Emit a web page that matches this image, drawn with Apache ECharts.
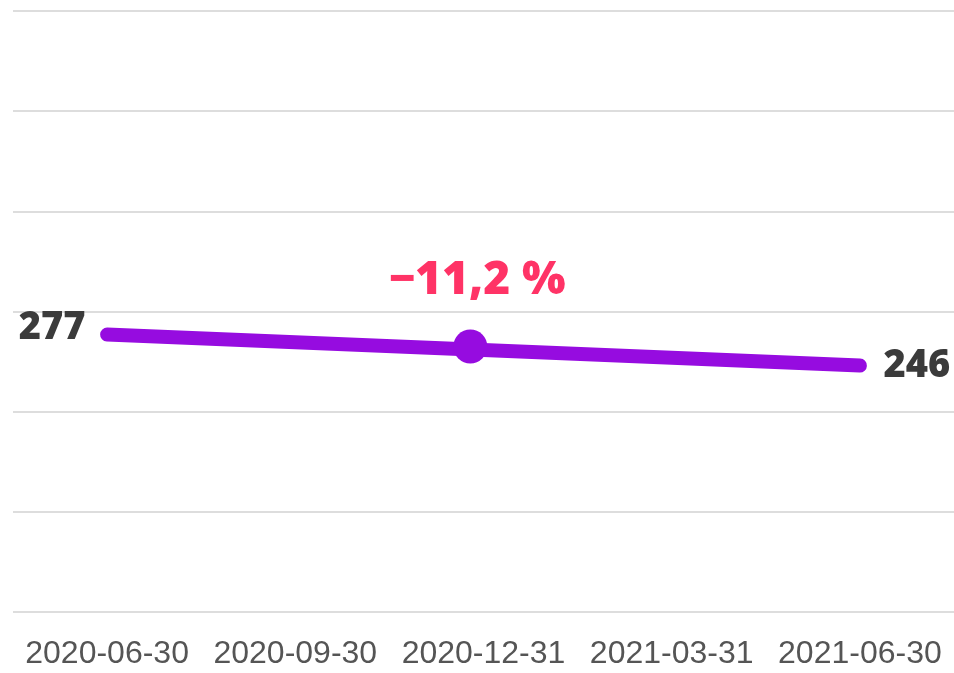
<!DOCTYPE html>
<html>
<head>
<meta charset="utf-8">
<script src="https://cdn.jsdelivr.net/npm/echarts@6/dist/echarts.min.js"></script>
<style>
  html, body { margin: 0; padding: 0; background: #fff; }
  #main { width: 954px; height: 673px; }
</style>
</head>
<body>
<div id="main"></div>
<script type="text/javascript">
// chart data
var categories = ['2020-06-30', '2020-09-30', '2020-12-31', '2021-03-31', '2021-06-30'];
var values = [277, null, null, null, 246];
var markerPoint = [1.93, 265];   // middle marker (x in category units)
var yTicks = [0, 100, 200, 300, 400, 500, 600];

var first = values[0], last = values[values.length - 1];
var change = ((last - first) * 100 / first).toFixed(1).replace('.', ',').replace('-', '\u2212') + ' %';

var lineColor = '#960ce0';

var lineData = [];
for (var i = 0; i < values.length; i++) {
    if (values[i] == null) { lineData.push(null); continue; }
    var isFirst = (i == 0);
    lineData.push({
        value: values[i],
        label: {
            show: true,
            position: isFirst ? 'left' : 'right',
            distance: isFirst ? 21 : 23,
            offset: isFirst ? [0, -6] : [0, 1]
        }
    });
}

var chart = echarts.init(document.getElementById('main'));
chart.setOption({
    animation: false,
    grid: { left: 13, right: 0, top: 11, bottom: 61, containLabel: false },
    xAxis: [
        {
            type: 'category',
            data: categories,
            boundaryGap: true,
            axisLine: { show: false },
            axisTick: { show: false },
            axisLabel: {
                interval: 0,
                color: '#555555',
                fontSize: 32,
                fontFamily: 'Liberation Sans',
                margin: 26
            }
        },
        {
            type: 'value',
            min: -0.5,
            max: categories.length - 0.5,
            show: false
        }
    ],
    yAxis: {
        type: 'value',
        min: yTicks[0],
        max: yTicks[yTicks.length - 1],
        interval: 100,
        axisLabel: { show: false },
        axisLine: { show: false },
        axisTick: { show: false },
        splitLine: { lineStyle: { color: '#dddddd', width: 2 } }
    },
    series: [
        {
            type: 'line',
            xAxisIndex: 0,
            data: lineData,
            connectNulls: true,
            symbol: 'circle',
            symbolSize: 1,
            itemStyle: { color: 'rgba(0,0,0,0)' },
            lineStyle: { color: lineColor, width: 14, cap: 'round' },
            label: {
                color: '#3b3b3b',
                fontSize: 38,
                fontWeight: 800,
                fontFamily: 'Open Sans'
            }
        },
        {
            type: 'scatter',
            xAxisIndex: 1,
            data: [markerPoint],
            symbol: 'circle',
            symbolSize: 34,
            itemStyle: { color: lineColor, opacity: 1 },
            label: {
                show: true,
                position: 'top',
                distance: 26,
                offset: [7, 0],
                formatter: change,
                color: '#ff3366',
                fontSize: 46,
                fontWeight: 800,
                fontFamily: 'Open Sans'
            },
            z: 5
        }
    ]
});
</script>
</body>
</html>
